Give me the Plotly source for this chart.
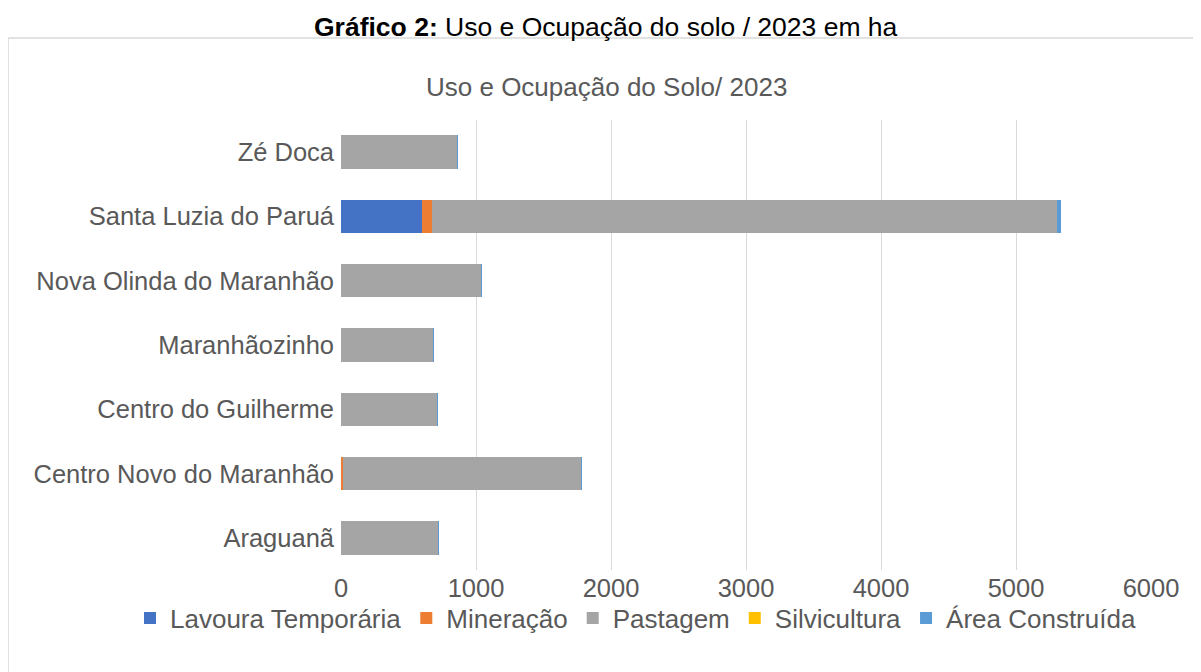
import plotly.graph_objects as go

# categories, bottom to top as plotly draws them
municipios = ['Araguanã', 'Centro Novo do Maranhão', 'Centro do Guilherme',
              'Maranhãozinho', 'Nova Olinda do Maranhão', 'Santa Luzia do Paruá',
              'Zé Doca']

lavoura = [0, 3, 0, 0, 0, 600, 0]
mineracao = [0, 14, 0, 0, 0, 75, 0]
pastagem = [720, 1765, 714, 685, 1040, 4630, 860]
silvicultura = [0, 0, 0, 0, 0, 0, 0]
area_construida = [5, 3, 3, 3, 4, 30, 5]

x_ticks = [0, 1000, 2000, 3000, 4000, 5000, 6000]

series = [
    ('Lavoura Temporária', lavoura, '#4472C4'),
    ('Mineração', mineracao, '#ED7D31'),
    ('Pastagem', pastagem, '#A5A5A5'),
    ('Silvicultura', silvicultura, '#FFC000'),
    ('Área Construída', area_construida, '#5B9BD5'),
]

font_family = 'Liberation Sans, Arial, sans-serif'
grey_text = '#595959'
fsize = 25.5

# the page body has an 8px margin, so the figure itself is 8px smaller
W, H = 1193, 664
PL, PR, PT, PB = 333, 1143, 112, 562   # plot area in figure px


def px_x(px):
    # reference-image px -> paper fraction
    return (px - 8 - PL) / (PR - PL)


def px_y(py):
    return (PB - (py - 8)) / (PB - PT)


def make_traces():
    data = []
    for name, vals, color in series:
        data.append(go.Bar(name=name,
                           x=vals,
                           y=municipios,
                           orientation='h',
                           marker=dict(color=color, line=dict(width=0)),
                           ))
    return data


def make_layout():
    layout = go.Layout(
        width=W,
        height=H,
        margin=dict(l=PL, r=W - PR, t=PT, b=H - PB),
        paper_bgcolor='white',
        plot_bgcolor='white',
        barmode='stack',
        bargap=0.48,
        font=dict(family=font_family, size=fsize, color=grey_text),
        xaxis=dict(range=[0, 6000],
                   tickvals=x_ticks,
                   showgrid=True,
                   gridcolor='#D9D9D9',
                   gridwidth=1,
                   zeroline=False,
                   showline=False,
                   ticks='',
                   tickfont=dict(size=fsize, color=grey_text),
                   ),
        yaxis=dict(range=[-0.5, 6.5],
                   showgrid=False,
                   zeroline=False,
                   showline=False,
                   ticks='',
                   ticklabelstandoff=6,
                   tickfont=dict(size=fsize, color=grey_text),
                   ),
        showlegend=True,
        legend=dict(orientation='h',
                    x=px_x(130), xanchor='left',
                    y=px_y(618), yanchor='middle',
                    font=dict(size=26, color=grey_text),
                    traceorder='normal',
                    itemwidth=30,
                    bgcolor='rgba(0,0,0,0)',
                    ),
        shapes=[dict(type='rect', xref='paper', yref='paper',
                     x0=px_x(8), x1=px_x(1215), y0=px_y(690), y1=px_y(38),
                     line=dict(color='#D9D9D9', width=1.5),
                     fillcolor='rgba(0,0,0,0)', layer='below')],
        annotations=[
            dict(text='<b>Gráfico 2:</b> Uso e Ocupação do solo / 2023 em ha',
                 xref='paper', yref='paper',
                 x=px_x(606), y=px_y(27),
                 xanchor='center', yanchor='middle', showarrow=False,
                 font=dict(size=26.5, color='black', family=font_family)),
            dict(text='Uso e Ocupação do Solo/ 2023',
                 xref='paper', yref='paper',
                 x=px_x(606), y=px_y(87),
                 xanchor='center', yanchor='middle', showarrow=False,
                 font=dict(size=26, color=grey_text, family=font_family)),
        ],
    )
    return layout


fig = go.Figure(data=make_traces(), layout=make_layout())
fig.write_html('out.html')
